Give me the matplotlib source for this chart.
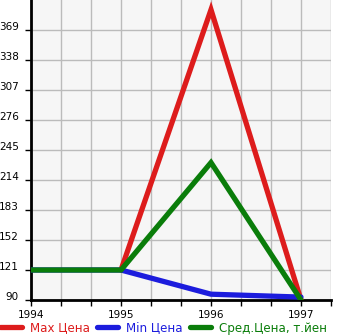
import matplotlib.pyplot as plt
from matplotlib.ticker import MultipleLocator

years = [1994, 1995, 1996, 1997]
max_price = [None, 121, 390, 90]
min_price = [121, 121, 96, 93]
avg_price = [121, 121, 232, 90]
y_ticks = [90, 121, 152, 183, 214, 245, 276, 307, 338, 369]
labels = ["Max Цена", "Min Цена", "Сред.Цена, т.йен"]
colors = ["#dd1c1c", "#1c1cdd", "#0a7d0a"]

fig = plt.figure(figsize=(3.45, 3.35), dpi=100)
ax = fig.add_axes([31 / 345, 35 / 335, 300 / 345, 300 / 335])
ax.set_facecolor("#f6f6f6")

# red only starts at 1995
ax.plot(years[1:], max_price[1:], color=colors[0], lw=3.8, label=labels[0],
        solid_capstyle="round", solid_joinstyle="miter", zorder=3)
ax.plot(years, min_price, color=colors[1], lw=3.8, label=labels[1],
        solid_capstyle="round", zorder=3)
ax.plot(years, avg_price, color=colors[2], lw=3.8, label=labels[2],
        solid_capstyle="round", solid_joinstyle="miter", zorder=4)

ax.set_xlim(1994, 1997 + 1 / 3)
ax.set_ylim(90, 400)
ax.set_xticks(years)
ax.set_xticklabels([str(y) for y in years])
ax.xaxis.set_minor_locator(MultipleLocator(1 / 3))
ax.set_yticks(y_ticks)
ax.grid(True, which="both", color="#bbbbbb", lw=1)
ax.set_axisbelow(True)

for s in ["top", "right"]:
    ax.spines[s].set_visible(False)
for s in ["left", "bottom"]:
    ax.spines[s].set_linewidth(2)
    ax.spines[s].set_color("black")

ax.tick_params(axis="both", which="both", length=4, width=1, labelsize=7.5, colors="black")
ax.tick_params(axis="y", pad=4.8)
for t in ax.get_yticklabels():
    t.set_verticalalignment("baseline")

leg = fig.legend(loc="lower left", bbox_to_anchor=(-0.02, -0.02), ncol=3, frameon=False,
                 fontsize=8.6, handlelength=1.8, handletextpad=0.65, columnspacing=0.6,
                 borderaxespad=0.2)
for txt, c in zip(leg.get_texts(), colors):
    txt.set_color(c)

fig.savefig("out.png", dpi=100)
